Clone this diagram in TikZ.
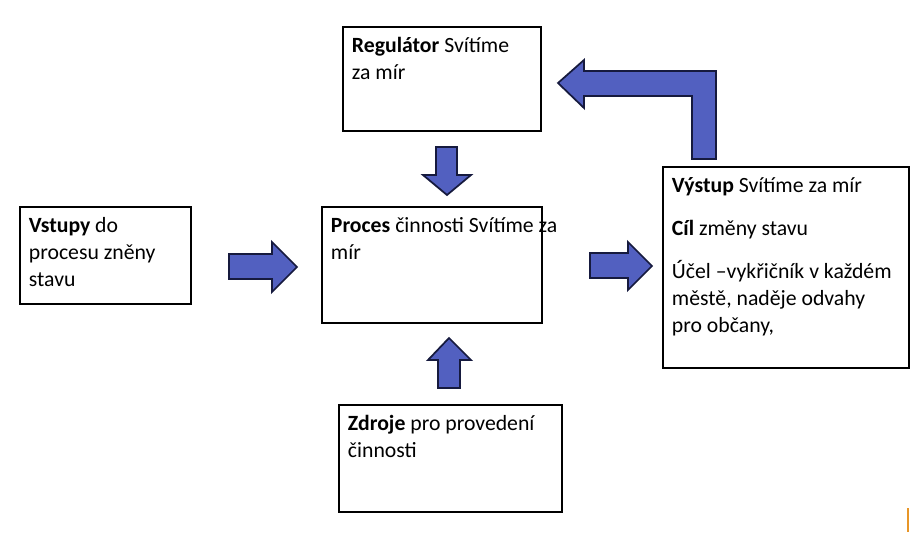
\documentclass[tikz,border=0pt]{standalone}
\usepackage{fontspec}
\setmainfont{Carlito}

\definecolor{arrowblue}{RGB}{82,96,192}
\definecolor{arrowline}{RGB}{22,26,62}
\definecolor{markorange}{RGB}{232,150,40}

\tikzset{
  box/.style={draw=black, line width=1.1pt, inner sep=0pt, outer sep=0pt},
  boxtext/.style={anchor=north west, inner sep=0pt, align=left,
    font=\fontsize{16.3}{20.3}\selectfont},
  blockarrow/.style={fill=arrowblue, draw=arrowline, line width=1.3pt, line join=miter},
}

\begin{document}
\begin{tikzpicture}[x=0.75pt,y=0.75pt,yscale=-1]
\useasboundingbox (0,0) rectangle (920,539);

%Boxes
\node[box, minimum width=148.5pt, minimum height=78pt] (reg) at (442,79) {};
\node[box, minimum width=128.25pt, minimum height=72.75pt] (vst) at (105.5,255.5) {};
\node[box, minimum width=165pt, minimum height=87pt] (proc) at (432,265) {};
\node[box, minimum width=184.5pt, minimum height=150.75pt] (vys) at (786,267.5) {};
\node[box, minimum width=167.25pt, minimum height=80.25pt] (zdr) at (450.5,458.5) {};

% Text Node
\node[boxtext] (regtext) at ([xshift=6.5pt,yshift=3.75pt]reg.north west)
  {\rule{0pt}{15pt}\textbf{Regulátor} Svítíme\\za mír};
% Text Node
\node[boxtext] (vsttext) at ([xshift=6.5pt,yshift=3.75pt]vst.north west)
  {\rule{0pt}{15pt}\textbf{Vstupy} do\\procesu zněny\\stavu};
% Text Node
\node[boxtext] (proctext) at ([xshift=6.5pt,yshift=3.75pt]proc.north west)
  {\rule{0pt}{15pt}\textbf{Proces} činnosti Svítíme za\\mír};
% Text Node
\node[boxtext] (vystext) at ([xshift=6.5pt,yshift=3.75pt]vys.north west)
  {\rule{0pt}{15pt}\textbf{Výstup} Svítíme za mír\\[12pt]
   \textbf{Cíl} změny stavu\\[12pt]
   Účel –vykřičník v každém\\městě, naděje odvahy\\pro občany,};
% Text Node
\node[boxtext] (zdrtext) at ([xshift=6.5pt,yshift=3.75pt]zdr.north west)
  {\rule{0pt}{15pt}\textbf{Zdroje} pro provedení\\činnosti};

%Block Arrows
\draw[blockarrow] (229,254) -- (272,254) -- (272,242) -- (297,267) -- (272,292) -- (272,279) -- (229,279) -- cycle;
\draw[blockarrow] (590,253) -- (628,253) -- (628,242) -- (652,266) -- (628,290) -- (628,278) -- (590,278) -- cycle;
\draw[blockarrow] (436,147) -- (457,147) -- (457,175) -- (471,175) -- (447,195) -- (423,175) -- (436,175) -- cycle;
\draw[blockarrow] (438,388) -- (460,388) -- (460,360) -- (471,360) -- (449,338) -- (428,360) -- (438,360) -- cycle;
%Bent Arrow
\draw[blockarrow] (558,83) -- (584,60) -- (584,71) -- (716,71) -- (716,159) -- (692,159) -- (692,96) -- (584,96) -- (584,108) -- cycle;

%Mark
\draw[markorange, line width=2.2pt] (908,508) -- (908,532);

\end{tikzpicture}
\end{document}
